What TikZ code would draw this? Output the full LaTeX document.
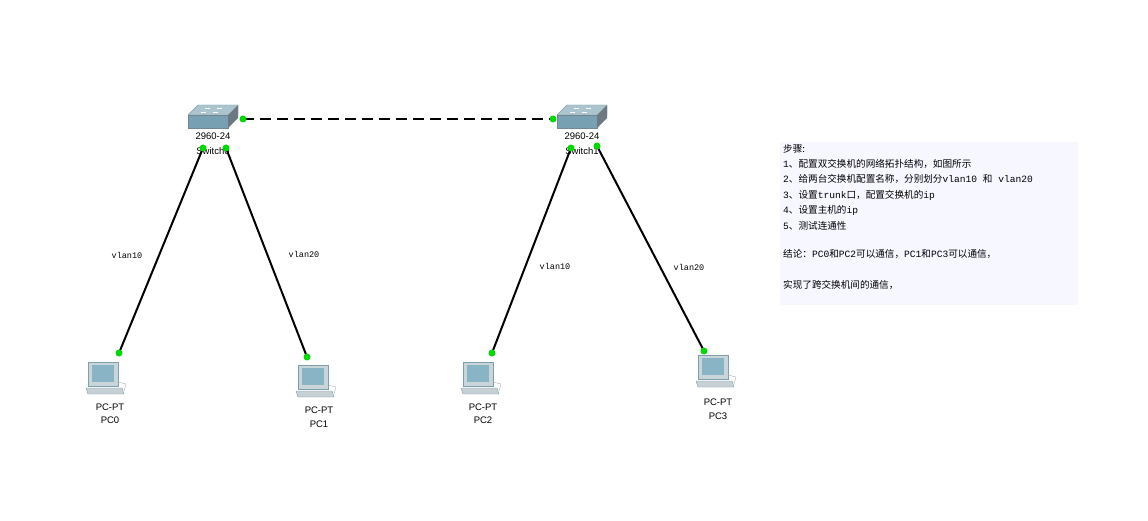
\documentclass[tikz,border=0pt]{standalone}
\usepackage{fontspec}
\setmainfont{Liberation Sans}
\newfontfamily\cjk{Noto Sans CJK SC}
\newfontfamily\mono{Liberation Mono}
\newcommand{\m}[1]{{\mono #1}}
\begin{document}
\begin{tikzpicture}[x=1pt,y=-1pt,
  port/.style={circle,fill=green!85!black,inner sep=0pt,minimum size=7pt},
  lnk/.style={line width=2pt,black},
  lbl/.style={font=\fontsize{9.5}{10}\selectfont,inner sep=0pt},
  vl/.style={font=\mono\fontsize{8.5}{9}\selectfont,inner sep=0pt},
  txt/.style={font=\cjk\fontsize{9.6}{10}\selectfont,inner sep=0pt,anchor=west}]
\useasboundingbox (0,0) rectangle (1148,521);
\newcommand{\swicon}[2]{%
  \fill[fill=cyan!30!gray!60!white,draw=cyan!30!gray] (#1-25,#2-3) -- (#1-15,#2-13) -- (#1+25,#2-13) -- (#1+25,#2-3) -- cycle;
  \fill[fill=cyan!35!gray,draw=cyan!30!gray!80!black] (#1-25,#2-3) rectangle (#1+15,#2+10);
  \fill[cyan!25!gray!70!black] (#1+15,#2-3) -- (#1+25,#2-13) -- (#1+25,#2) -- (#1+15,#2+10) -- cycle;
  \foreach \a/\b in {-8/-10,4/-10,-12/-6,0/-6}{\draw[white,line width=0.6pt] (#1+\a,#2+\b) -- ++(5,0);}
}
\newcommand{\pcicon}[2]{%
  \fill[cyan!20!gray!40,draw=cyan!30!gray] (#1-17,#2-18) rectangle (#1+13,#2+6);
  \fill[cyan!40!gray!80] (#1-13,#2-15) rectangle (#1+9,#2+2);
  \fill[cyan!15!gray!45,draw=cyan!30!gray] (#1-19,#2+8) -- (#1+17,#2+8) -- (#1+19,#2+14) -- (#1-17,#2+14) -- cycle;
  \draw[gray!60] (#1+13,#2+2) -- (#1+21,#2+4) -- (#1+19,#2+11);
}
\swicon{213}{118}
\swicon{582}{118}
\pcicon{105}{380}
\pcicon{315}{383}
\pcicon{480}{380}
\pcicon{715}{373}
\coordinate (s0r) at (243,119); \coordinate (s1l) at (553,119);
\coordinate (s0a) at (203,148); \coordinate (s0b) at (226,148);
\coordinate (s1a) at (571,148); \coordinate (s1b) at (597,146);
\coordinate (p0) at (119,353); \coordinate (p1) at (307,357);
\coordinate (p2) at (492,353); \coordinate (p3) at (704,351);
\draw[lnk,dash pattern=on 11pt off 6pt] (s0r) -- (s1l);
\draw[lnk] (s0a) -- (p0);
\draw[lnk] (s0b) -- (p1);
\draw[lnk] (s1a) -- (p2);
\draw[lnk] (s1b) -- (p3);
\node[lbl] (sw0m) at (213,136) {2960-24};
\node[lbl] (sw0n) at (213,151) {Switch0};
\node[lbl] (sw1m) at (582,136) {2960-24};
\node[lbl] (sw1n) at (582,151) {Switch1};
\foreach \c in {s0r,s1l,s0a,s0b,s1a,s1b,p0,p1,p2,p3}{\node[port] at (\c) {};}
\node[lbl] (pc0m) at (110,407) {PC-PT}; \node[lbl] (pc0n) at (110,420) {PC0};
\node[lbl] (pc1m) at (319,410) {PC-PT}; \node[lbl] (pc1n) at (319,424) {PC1};
\node[lbl] (pc2m) at (483,407) {PC-PT}; \node[lbl] (pc2n) at (483,420) {PC2};
\node[lbl] (pc3m) at (718,402) {PC-PT}; \node[lbl] (pc3n) at (718,416) {PC3};
\node[vl] (v1) at (127,255) {vlan10};
\node[vl] (v2) at (304,254) {vlan20};
\node[vl] (v3) at (555,266) {vlan10};
\node[vl] (v4) at (689,267) {vlan20};
\fill[blue!3] (780,142) rectangle (1078,305);
\node[txt] (t1) at (783,149) {步骤:};
\node[txt] (t2) at (783,164) {\m{1}、配置双交换机的网络拓扑结构，如图所示};
\node[txt] (t3) at (783,179) {\m{2}、给两台交换机配置名称，分别划分\m{vlan10 }和\m{ vlan20}};
\node[txt] (t4) at (783,195) {\m{3}、设置\m{trunk}口，配置交换机的\m{ip}};
\node[txt] (t5) at (783,210) {\m{4}、设置主机的\m{ip}};
\node[txt] (t6) at (783,226) {\m{5}、测试连通性};
\node[txt] (t7) at (783,254) {结论：\m{PC0}和\m{PC2}可以通信，\m{PC1}和\m{PC3}可以通信，};
\node[txt] (t8) at (783,285) {实现了跨交换机间的通信，};
\end{tikzpicture}
\end{document}
